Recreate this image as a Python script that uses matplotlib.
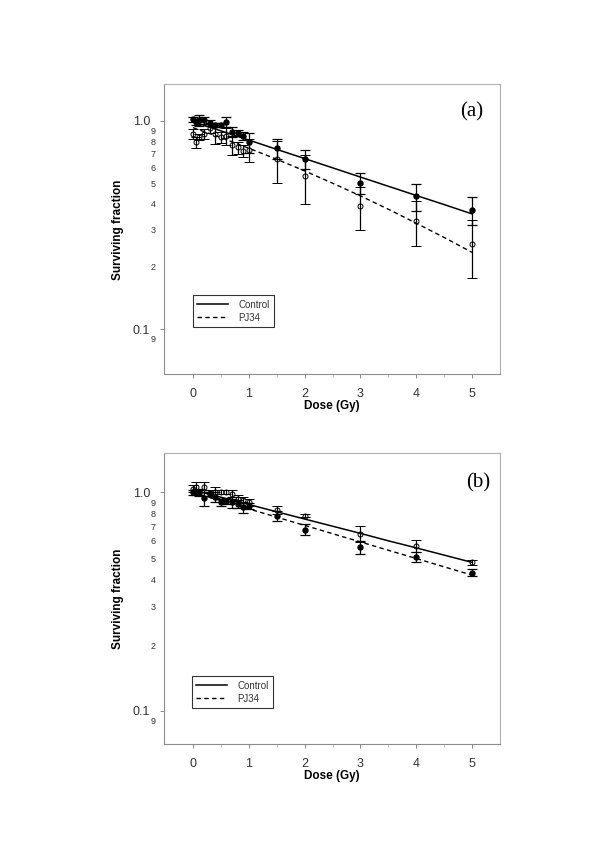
import numpy as np
import matplotlib
matplotlib.use("Agg")
import matplotlib.pyplot as plt
from matplotlib.ticker import FixedLocator, FixedFormatter, NullFormatter

plt.rcParams['font.family'] = ['Liberation Sans', 'DejaVu Sans']

# ---------------------------------------------------------------------------
# data
# ---------------------------------------------------------------------------
doses = [0, 0.05, 0.1, 0.2, 0.3, 0.4, 0.5, 0.6, 0.7, 0.8, 0.9, 1.0, 1.5, 2, 3, 4, 5]
fit_dose = [0, 0.5, 1, 1.5, 2, 2.5, 3, 3.5, 4, 4.5, 5]

# panel (a): control = filled, PJ34 = open
a_filled = [1.02, 0.99, 1.01, 1.01, 0.98, 0.96, 0.96, 0.99, 0.885, 0.88, 0.847,
            0.79, 0.74, 0.657, 0.504, 0.435, 0.374]
a_filled_err = [0.03, 0.03, 0.06, 0.04, 0.03, 0.02, 0.02, 0.05, 0.05, 0.03, 0.04,
                0.09, 0.08, 0.07, 0.06, 0.065, 0.056]
a_open = [0.866, 0.79, 0.84, 0.866, 0.93, 0.866, 0.835, 0.844, 0.764, 0.747, 0.72,
          0.726, 0.655, 0.545, 0.39, 0.332, 0.256]
a_open_err = [0.05, 0.045, 0.03, 0.05, 0.05, 0.09, 0.05, 0.08, 0.08, 0.05, 0.05,
              0.09, 0.15, 0.145, 0.09, 0.08, 0.08]
a_ctrl_fit = [0.993, 0.897, 0.810, 0.731, 0.660, 0.596, 0.538, 0.486, 0.439, 0.397, 0.358]
a_pj_fit = [0.929, 0.832, 0.740, 0.655, 0.576, 0.503, 0.437, 0.377, 0.323, 0.276, 0.234]

# panel (b): open points follow the solid line, filled the dashed one
b_open = [1.04, 1.06, 1.0, 1.06, 0.99, 1.0, 1.0, 1.0, 0.98, 0.93, 0.92, 0.90,
          0.83, 0.78, 0.647, 0.57, 0.478]
b_open_err = [0.04, 0.05, 0.03, 0.06, 0.03, 0.06, 0.02, 0.02, 0.05, 0.04, 0.03, 0.03,
              0.035, 0.012, 0.055, 0.035, 0.012]
b_filled = [1.0, 1.0, 1.0, 0.945, 0.98, 0.955, 0.90, 0.91, 0.90, 0.884, 0.854, 0.866,
            0.779, 0.675, 0.56, 0.506, 0.429]
b_filled_err = [0.03, 0.03, 0.04, 0.075, 0.02, 0.05, 0.03, 0.03, 0.05, 0.04, 0.05, 0.03,
                0.04, 0.04, 0.04, 0.027, 0.015]
b_ctrl_fit = [1.025, 0.950, 0.880, 0.815, 0.755, 0.700, 0.649, 0.600, 0.557, 0.516, 0.478]
b_pj_fit = [1.0, 0.917, 0.840, 0.770, 0.706, 0.647, 0.593, 0.543, 0.498, 0.456, 0.418]

major_y = [0.1, 1.0]
major_lab = ["0.1", "1.0"]
minor_y = [0.09, 0.2, 0.3, 0.4, 0.5, 0.6, 0.7, 0.8, 0.9]
minor_lab = ["9", "2", "3", "4", "5", "6", "7", "8", "9"]

GREY = "#8c8c8c"
DASH = (0, (3.2, 2.4))


def panel(ax, filled, filled_err, open_, open_err, ctrl_fit, pj_fit, ylim, tag, tag_xy, leg_xy):
    ax.plot(fit_dose, ctrl_fit, color="black", lw=1.1, label="Control", zorder=2)
    ax.plot(fit_dose, pj_fit, color="black", lw=1.0, ls=DASH, label="PJ34", zorder=2)

    ax.errorbar(doses, filled, yerr=filled_err, fmt="o", ms=3.6, mfc="black", mec="black",
                ecolor="black", elinewidth=0.9, capsize=3.4, capthick=0.9, zorder=3)
    ax.errorbar(doses, open_, yerr=open_err, fmt="o", ms=3.6, mfc="none", mec="black",
                mew=0.7, ecolor="black", elinewidth=0.9, capsize=3.4, capthick=0.9, zorder=3)

    ax.set_yscale("log")
    ax.set_xlim(-0.52, 5.5)
    ax.set_ylim(*ylim)

    ax.yaxis.set_major_locator(FixedLocator(major_y))
    ax.yaxis.set_major_formatter(FixedFormatter(major_lab))
    ax.yaxis.set_minor_locator(FixedLocator(minor_y))
    ax.yaxis.set_minor_formatter(FixedFormatter(minor_lab))
    ax.tick_params(axis="y", which="major", length=3, width=0.7, color=GREY,
                   labelsize=9, labelcolor="#333333", pad=7)
    ax.tick_params(axis="y", which="minor", length=0, labelsize=6.5,
                   labelcolor="#333333", pad=6)

    ax.set_xticks([0, 1, 2, 3, 4, 5])
    ax.set_xticks(np.arange(0.5, 5.0, 1.0), minor=True)
    ax.xaxis.set_minor_formatter(NullFormatter())
    ax.tick_params(axis="x", which="major", length=3, width=0.7, color=GREY,
                   labelsize=9, labelcolor="#333333", pad=7)
    ax.tick_params(axis="x", which="minor", length=2, width=0.6, color="#bbbbbb")

    for side, sp in ax.spines.items():
        sp.set_color(GREY if side in ("left", "bottom") else "#b0b0b0")
        sp.set_linewidth(0.8)

    ax.set_xlabel("Dose (Gy)", fontsize=8.5, fontweight="bold", labelpad=0)
    ax.set_ylabel("Surviving fraction", fontsize=8.5, fontweight="bold")
    ax.yaxis.set_label_coords(-0.118, 0.5)

    ax.text(tag_xy[0], tag_xy[1], tag, transform=ax.transAxes, ha="center", va="center",
            fontsize=15, family=["Liberation Serif", "DejaVu Serif"])

    leg = ax.legend(loc="lower left", bbox_to_anchor=leg_xy, fontsize=7, frameon=True,
                    fancybox=False, edgecolor="black", handlelength=3.2, handletextpad=1.0,
                    borderpad=0.45, labelspacing=0.3, borderaxespad=0)
    leg.get_frame().set_linewidth(0.8)
    for t in leg.get_texts():
        t.set_color("#333333")


fig = plt.figure(figsize=(6, 8.49), dpi=100)
ax_a = fig.add_axes([0.2733, 0.5591, 0.56, 0.3416])
ax_b = fig.add_axes([0.2733, 0.1233, 0.56, 0.3428])

panel(ax_a, a_filled, a_filled_err, a_open, a_open_err, a_ctrl_fit, a_pj_fit,
      (0.0608, 1.5), "(a)", (0.917, 0.905), (0.086, 0.163))
panel(ax_b, b_filled, b_filled_err, b_open, b_open_err, b_ctrl_fit, b_pj_fit,
      (0.0702, 1.51), "(b)", (0.935, 0.9), (0.083, 0.125))

fig.savefig("out.png", dpi=100, facecolor="white")
